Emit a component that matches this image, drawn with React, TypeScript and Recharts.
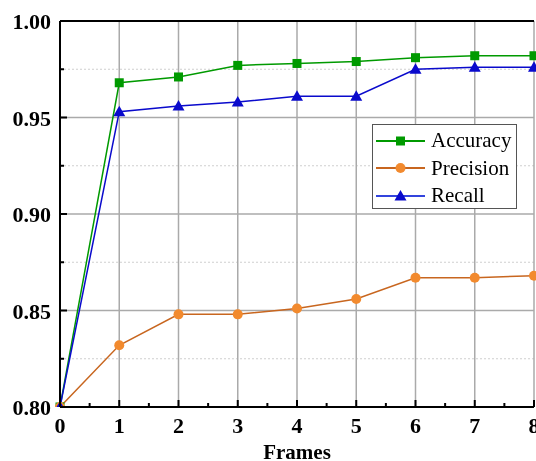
import {
  LineChart,
  Line,
  XAxis,
  YAxis,
  ReferenceLine,
  Legend,
} from "recharts";

const frames = [0, 1, 2, 3, 4, 5, 6, 7, 8];
const accuracy = [0.8, 0.968, 0.971, 0.977, 0.978, 0.979, 0.981, 0.982, 0.982];
const precision = [0.8, 0.832, 0.848, 0.848, 0.851, 0.856, 0.867, 0.867, 0.868];
const recall = [0.8, 0.953, 0.956, 0.958, 0.961, 0.961, 0.975, 0.976, 0.976];

const X_TICKS = [0, 0.5, 1, 1.5, 2, 2.5, 3, 3.5, 4, 4.5, 5, 5.5, 6, 6.5, 7, 7.5, 8];
const Y_TICKS = [0.8, 0.825, 0.85, 0.875, 0.9, 0.925, 0.95, 0.975, 1.0];
const Y_MAJOR_GRID = [0.85, 0.9, 0.95];
const Y_MINOR_GRID = [0.825, 0.875, 0.925, 0.975];
const X_GRID = [1, 2, 3, 4, 5, 6, 7, 8];

const GREEN = "#009a00";
const ORANGE = "#f28a2e";
const ORANGE_LINE = "#c8661f";
const BLUE = "#0a0acc";

const data = frames.map((f, i) => ({
  frame: f,
  accuracy: accuracy[i],
  precision: precision[i],
  recall: recall[i],
}));

const FONT = "Liberation Serif";

const XTick = ({ x, y, payload }: any) => {
  const v = payload.value;
  const major = Number.isInteger(v);
  return (
    <g>
      <line x1={x} x2={x} y1={y} y2={y - (major ? 7 : 4)} stroke="#000" strokeWidth={2} />
      {major && (
        <text x={x} y={y + 26} textAnchor="middle" style={{ fontFamily: FONT, fontWeight: "bold", fontSize: 22 }} fill="#000">
          {v}
        </text>
      )}
    </g>
  );
};

const YTick = ({ x, y, payload }: any) => {
  const v = payload.value;
  const major = Math.round(v * 1000) % 50 === 0;
  return (
    <g>
      <line x1={x} x2={x + (major ? 7 : 4)} y1={y} y2={y} stroke="#000" strokeWidth={2} />
      {major && (
        <text x={x - 9} y={y + 8} textAnchor="end" style={{ fontFamily: FONT, fontWeight: "bold", fontSize: 22 }} fill="#000">
          {v.toFixed(2)}
        </text>
      )}
    </g>
  );
};

const SquareDot = ({ cx, cy }: any) => (
  <rect x={cx - 4.5} y={cy - 4.5} width={9} height={9} fill={GREEN} />
);

const CircleDot = ({ cx, cy }: any) => <circle cx={cx} cy={cy} r={5} fill={ORANGE} />;

const TriangleDot = ({ cx, cy }: any) => (
  <path d={`M${cx},${cy - 6} L${cx + 6},${cy + 4.5} L${cx - 6},${cy + 4.5} Z`} fill={BLUE} />
);

const legendItems = [
  { name: "Accuracy", color: GREEN, line: GREEN, shape: "square" },
  { name: "Precision", color: ORANGE, line: ORANGE_LINE, shape: "circle" },
  { name: "Recall", color: BLUE, line: "#3344dd", shape: "triangle" },
];

const ChartLegend = () => (
  <div
    style={{
      border: "1.5px solid #555",
      background: "#fff",
      width: 145,
      height: 85,
      boxSizing: "border-box",
      paddingTop: 2,
    }}
  >
    {legendItems.map((item) => (
      <div key={item.name} style={{ display: "flex", alignItems: "center", height: 27.5 }}>
        <svg width={58} height={20} style={{ flex: "none" }}>
          <line x1={3} x2={52} y1={10} y2={10} stroke={item.line} strokeWidth={2} />
          {item.shape === "square" && <rect x={23} y={5.5} width={9} height={9} fill={item.color} />}
          {item.shape === "circle" && <circle cx={27.5} cy={10} r={5} fill={item.color} />}
          {item.shape === "triangle" && <path d="M27.5,4 L33.5,14.5 L21.5,14.5 Z" fill={item.color} />}
        </svg>
        <span style={{ fontFamily: FONT, fontSize: 21, color: "#000", lineHeight: "21px" }}>{item.name}</span>
      </div>
    ))}
  </div>
);

export default function App() {
  return (
    <div style={{ position: "fixed", left: 0, top: 0, width: 536, height: 461, overflow: "hidden", fontFamily: FONT }}>
      <LineChart
        width={560}
        height={461}
        data={data}
        margin={{ top: 21, right: 26, left: 0, bottom: 0 }}
        style={{ fontFamily: FONT }}
      >
        <XAxis
          dataKey="frame"
          type="number"
          domain={[0, 8]}
          ticks={X_TICKS}
          interval={0}
          tickSize={0}
          tickMargin={0}
          tickLine={false}
          tick={<XTick />}
          axisLine={{ stroke: "#000", strokeWidth: 2 }}
          height={54}
          label={{
            value: "Frames",
            position: "insideBottom",
            offset: 2,
            style: { fontFamily: FONT, fontWeight: "bold", fontSize: 21, fill: "#000" },
          }}
        />
        <YAxis
          type="number"
          domain={[0.8, 1.0]}
          ticks={Y_TICKS}
          interval={0}
          tickSize={0}
          tickMargin={0}
          tickLine={false}
          tick={<YTick />}
          axisLine={{ stroke: "#000", strokeWidth: 2 }}
          width={60}
          allowDataOverflow
        />
        {Y_MINOR_GRID.map((v) => (
          <ReferenceLine key={`ym-${v}`} y={v} stroke="#cfcfcf" strokeDasharray="2 2" strokeWidth={1} />
        ))}
        {Y_MAJOR_GRID.map((v) => (
          <ReferenceLine key={`yM-${v}`} y={v} stroke="#aaaaaa" strokeWidth={1.5} />
        ))}
        {X_GRID.map((v) => (
          <ReferenceLine key={`x-${v}`} x={v} stroke="#aaaaaa" strokeWidth={1.5} />
        ))}
        <ReferenceLine y={1.0} stroke="#000" strokeWidth={2} />
        <Line
          dataKey="accuracy"
          name="Accuracy"
          stroke={GREEN}
          strokeWidth={1.5}
          dot={<SquareDot />}
          activeDot={false}
          isAnimationActive={false}
        />
        <Line
          dataKey="precision"
          name="Precision"
          stroke={ORANGE_LINE}
          strokeWidth={1.5}
          dot={<CircleDot />}
          activeDot={false}
          isAnimationActive={false}
        />
        <Line
          dataKey="recall"
          name="Recall"
          stroke={BLUE}
          strokeWidth={1.5}
          dot={<TriangleDot />}
          activeDot={false}
          isAnimationActive={false}
        />
        <Legend
          layout="vertical"
          align="center"
          verticalAlign="middle"
          content={<ChartLegend />}
          wrapperStyle={{ left: 372, top: 124, width: 145, height: 85 }}
        />
      </LineChart>
    </div>
  );
}
